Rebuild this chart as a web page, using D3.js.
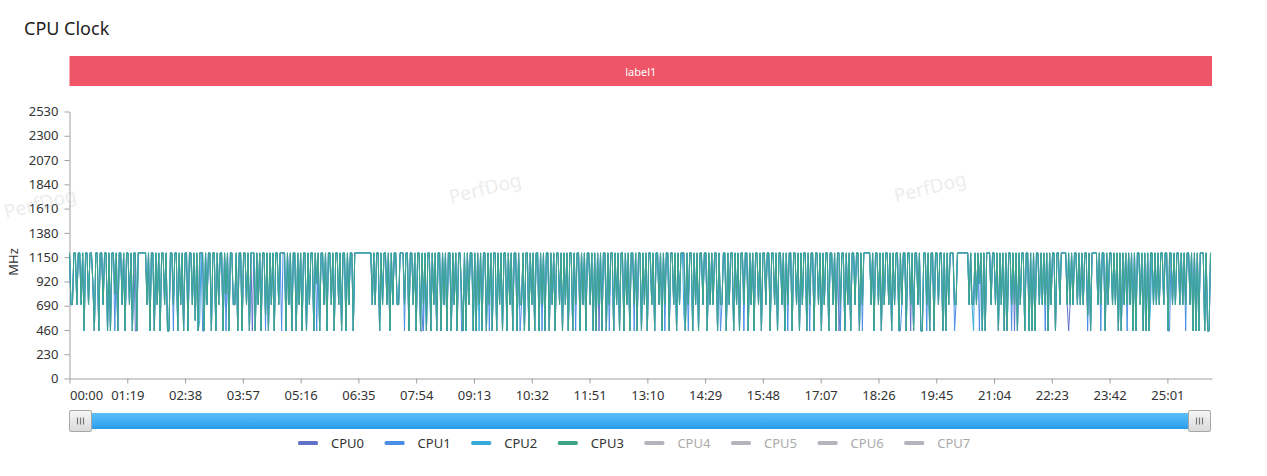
<!DOCTYPE html>
<html><head><meta charset="utf-8">
<script src="https://cdn.jsdelivr.net/npm/d3@7"></script>
<style>body{margin:0;background:#fff;}svg{display:block;font-family:"Noto Sans",sans-serif;}</style>
</head><body><svg id="c" width="1267" height="476"></svg>
<script>
const chartTitle = "CPU Clock";
const bandLabel = "label1";
const yAxisName = "MHz";
const yTicks = [0,230,460,690,920,1150,1380,1610,1840,2070,2300,2530];
const xTickLabels = ["00:00","01:19","02:38","03:57","05:16","06:35","07:54","09:13","10:32","11:51","13:10","14:29","15:48","17:07","18:26","19:45","21:04","22:23","23:42","25:01"];
const seriesNames = ["CPU0","CPU1","CPU2","CPU3","CPU4","CPU5","CPU6","CPU7"];
const seriesColors = ["#6272c8","#4b8ee6","#36a9da","#3fa487","#b4b4bc","#b4b4bc","#b4b4bc","#b4b4bc"];
const seriesActive = [true,true,true,true,false,false,false,false];
const sampleStepSec = 2;
const durationSec = 1562;
// CPU3 clock (MHz), one reading every 2 s
const cpu3 = [
1190,700,700,1190,1190,700,1190,1190,700,1190,450,1190,1190,700,1190,1190,900,450,1190,1190,
450,1190,1190,700,1190,1190,450,1190,450,1190,1190,800,1190,450,1190,1190,700,1190,450,1190,
1190,700,1190,450,1190,1190,450,1190,1190,1190,1190,1190,1190,700,1190,450,1190,1190,450,1190,
700,1190,450,1190,1190,700,1190,450,450,1190,1190,700,1190,1190,450,1190,700,1190,450,1190,
1190,450,1190,1190,700,1190,550,1190,450,1190,1190,1190,450,1190,700,1190,1190,450,1190,1190,
450,1190,700,1190,1190,450,1190,800,1190,450,1190,1190,700,700,1190,450,1190,1190,450,1190,
1190,700,1190,450,1190,1190,1190,450,1190,700,1190,450,1190,1190,600,1190,450,1190,700,1190,
450,1190,1190,700,1190,1190,1190,1190,450,1190,700,1190,450,1190,1190,450,1190,700,1190,450,
1190,1190,450,1190,700,1190,1190,450,1190,900,1190,450,1190,1190,700,1190,450,1190,1190,700,
1190,450,1190,1190,700,1190,450,1190,1190,450,1190,700,1190,1190,450,1190,1190,1190,1190,1190,
1190,1190,1190,1190,1190,1190,1190,700,1190,700,1190,1190,450,1190,700,1190,1190,700,1190,450,
1190,700,1190,1190,700,700,1190,1190,1190,700,1190,1190,450,1190,1190,700,1190,450,1190,1190,
450,1190,700,1190,450,1190,1190,450,1190,700,1190,450,1190,1190,450,1190,700,1190,450,1190,
1190,450,1190,700,1190,450,1190,1190,800,450,1190,450,1190,700,1190,1190,450,1190,450,1190,
700,1190,450,1190,1190,450,1190,700,1190,450,1190,1190,450,1190,700,1190,450,1190,1190,450,
1190,700,1190,450,1190,1190,450,1190,700,700,1190,450,1190,1190,450,1190,700,1190,450,1190,
1190,450,1190,700,1190,450,1190,1190,450,1190,700,1190,450,1190,1190,700,1190,450,1190,700,
1190,450,1190,1190,450,1190,700,1190,1190,450,1190,700,1190,450,1190,1190,700,1190,450,1190,
450,1190,700,1190,450,1190,1190,450,1190,700,1190,1190,450,1190,700,1190,450,1190,1190,450,
1190,700,1190,450,1190,1190,700,1190,450,1190,1190,450,1190,700,1190,450,1190,1190,700,1190,
450,1190,1190,700,1190,450,1190,700,1190,1190,450,1190,1190,700,1190,450,1190,700,1190,1190,
1190,450,1190,700,1190,1190,450,1190,700,1190,450,1190,1190,700,1190,1190,450,1190,700,1190,
700,1190,1190,450,1190,700,700,1190,1190,450,1190,700,1190,1190,450,1190,700,1190,450,1190,
1190,700,1190,1190,450,1190,700,1190,450,1190,1190,700,1190,450,1190,1190,700,1190,1190,450,
1190,1190,700,1190,450,1190,1190,700,1190,450,1190,700,1190,1190,450,1190,1190,700,1190,450,
1190,700,1190,1190,450,1190,700,1190,1190,450,1190,1190,700,1190,450,1190,700,1190,1190,450,
1190,1190,700,1190,450,1190,1190,700,1190,1190,450,1190,700,1190,450,1190,1190,700,1190,1190,
450,1190,700,1190,1190,1190,1190,1190,700,1190,450,1190,1190,700,1190,450,1190,700,1190,1190,
700,1190,450,1190,700,1190,1190,450,1190,700,1190,1190,450,1190,1190,700,1190,450,1190,1190,
700,1190,450,450,1190,1190,700,1190,450,1190,1190,450,1190,1190,700,1190,1190,450,1190,450,
1190,700,1190,1190,1190,700,700,1190,1190,1190,1190,1190,1190,1190,1190,700,1190,700,700,1190,
700,1190,900,1190,450,1190,450,1190,1190,1190,700,1190,1190,700,1190,450,1190,700,1190,450,
1190,450,1190,1190,700,1190,700,1190,450,1190,700,1190,1190,450,1190,1190,450,1190,450,1190,
450,1190,1190,700,1190,700,1190,700,1190,450,1190,700,1190,1190,450,1190,1190,700,1190,1190,
1190,1190,700,1190,700,1190,700,1190,1190,700,1190,700,1190,700,1190,1190,600,1190,450,1190,
1190,1190,1190,700,1190,700,1190,1190,450,1190,700,1190,1190,700,1190,700,1190,450,1190,450,
1190,700,1190,700,1190,700,1190,450,1190,450,1190,1190,700,1190,450,1190,450,1190,450,1190,
1190,700,1190,700,1190,700,1190,1190,700,1190,1190,450,1190,1190,700,1190,700,1190,1190,700,
1190,700,1190,700,1190,1190,700,1190,450,1190,450,1190,450,1190,1190,1190,450,1190,450,450,
1190];
// readings where CPU0..CPU2 differ from CPU3: [second, MHz]
const cpu0Diffs = [[90,450],[250,450],[482,450],[724,450],[1052,450],[1150,450],[1292,450],[1366,450]];
const cpu1Diffs = [[62,450],[142,450],[182,450],[214,450],[268,450],[290,450],[338,450],[458,450],[484,450],[536,450],[574,450],[616,450],[646,450],[692,450],[738,450],[772,450],[814,450],[846,450],[890,450],[922,450],[982,450],[1012,450],[1054,450],[1084,450],[1136,450],[1172,450],[1210,450],[1244,450],[1288,450],[1334,450],[1392,450],[1410,450],[1446,450],[1504,450],[1526,450]];
const cpu2Diffs = [[178,550],[560,450],[840,600],[1236,450],[1478,700]];

const svg = d3.select("#c");
const x = d3.scaleLinear().domain([0, durationSec]).range([69.5, 1212]);
const y = d3.scaleLinear().domain([0, 2530]).range([378.5, 111.5]);
const parseT = s => { const [m, ss] = s.split(":").map(Number); return m * 60 + ss; };

function build(diffs) {
  const m = new Map(diffs.map(d => [d[0], d[1]]));
  return cpu3.map((v, i) => [i * sampleStepSec, m.has(i * sampleStepSec) ? m.get(i * sampleStepSec) : v]);
}
const seriesData = [build(cpu0Diffs), build(cpu1Diffs), build(cpu2Diffs), cpu3.map((v, i) => [i * sampleStepSec, v])];

// title
svg.append("text").attr("x", 24).attr("y", 35).attr("font-size", 18).attr("fill", "#222").text(chartTitle);

// band
svg.append("rect").attr("x", 69.5).attr("y", 56).attr("width", 1212 - 69.5).attr("height", 30).attr("fill", "#ee5566");
svg.append("text").attr("x", (69.5 + 1212) / 2).attr("y", 71).attr("dominant-baseline", "central")
  .attr("text-anchor", "middle").attr("font-size", 11).attr("fill", "#fff").text(bandLabel);

// watermarks
[[40, 203], [485, 188], [930, 187]].forEach(([cx, cy]) => {
  svg.append("text").attr("transform", `translate(${cx},${cy}) rotate(-14)`).attr("text-anchor", "middle")
    .attr("dominant-baseline", "central").attr("font-size", 19).attr("fill", "#ededed").text("PerfDog");
});

// y axis
const ya = svg.append("g").attr("transform", "translate(69.5,0)")
  .call(d3.axisLeft(y).tickValues(yTicks).tickFormat(d3.format("d")).tickSize(5).tickSizeOuter(0).tickPadding(6));
ya.select(".domain").attr("stroke", "#a0a0a0");
ya.selectAll(".tick line").attr("stroke", "#a0a0a0");
ya.selectAll(".tick text").attr("fill", "#333").attr("font-size", 13).attr("font-family", "Noto Sans");
svg.append("text").attr("transform", "translate(13,262) rotate(-90)").attr("text-anchor", "middle")
  .attr("dominant-baseline", "central").attr("font-size", 13).attr("fill", "#333").text(yAxisName);

// x axis
const xa = svg.append("g").attr("transform", `translate(0,${y(0)})`)
  .call(d3.axisBottom(x).tickValues(xTickLabels.map(parseT)).tickFormat((d, i) => xTickLabels[i])
    .tickSize(5).tickSizeOuter(0).tickPadding(7));
xa.select(".domain").attr("stroke", "#a0a0a0");
xa.selectAll(".tick line").attr("stroke", "#a0a0a0");
xa.selectAll(".tick text").attr("fill", "#333").attr("font-size", 13).attr("font-family", "Noto Sans")
  .attr("text-anchor", (d, i) => i === 0 ? "start" : "middle");

// lines
const line = d3.line().x(d => x(d[0])).y(d => y(d[1]));
seriesData.forEach((data, k) => {
  svg.append("path").datum(data).attr("d", line).attr("fill", "none")
    .attr("stroke", seriesColors[k]).attr("stroke-width", 1).attr("stroke-linejoin", "round");
});

// slider
const defs = svg.append("defs");
const gb = defs.append("linearGradient").attr("id", "gb").attr("x1", 0).attr("x2", 0).attr("y1", 0).attr("y2", 1);
gb.append("stop").attr("offset", "0%").attr("stop-color", "#5cc0fa");
gb.append("stop").attr("offset", "100%").attr("stop-color", "#2a9cec");
const gh = defs.append("linearGradient").attr("id", "gh").attr("x1", 0).attr("x2", 0).attr("y1", 0).attr("y2", 1);
gh.append("stop").attr("offset", "0%").attr("stop-color", "#f7f7f7");
gh.append("stop").attr("offset", "100%").attr("stop-color", "#d9d9d9");
svg.append("rect").attr("x", 92).attr("y", 413).attr("width", 1188 - 92).attr("height", 16).attr("fill", "url(#gb)");
[[69.5, 410.5], [1188.5, 410.5]].forEach(([hx, hy]) => {
  svg.append("rect").attr("x", hx).attr("y", hy).attr("width", 22).attr("height", 21).attr("rx", 1.5)
    .attr("fill", "url(#gh)").attr("stroke", "#a8a8a8");
  [-3, 0, 3].forEach(o => {
    svg.append("line").attr("x1", hx + 11 + o).attr("x2", hx + 11 + o).attr("y1", hy + 7).attr("y2", hy + 14)
      .attr("stroke", "#777").attr("stroke-width", 1.2);
  });
});

// legend
seriesNames.forEach((n, i) => {
  const lx = 298 + i * 86.6;
  svg.append("rect").attr("x", lx).attr("y", 441).attr("width", 20).attr("height", 4).attr("rx", 1.5)
    .attr("fill", seriesActive[i] ? seriesColors[i] : "#b4b4bc");
  svg.append("text").attr("x", lx + 33).attr("y", 443).attr("dominant-baseline", "central")
    .attr("font-size", 13).attr("fill", seriesActive[i] ? "#333" : "#aaa").text(n);
});
</script></body></html>
